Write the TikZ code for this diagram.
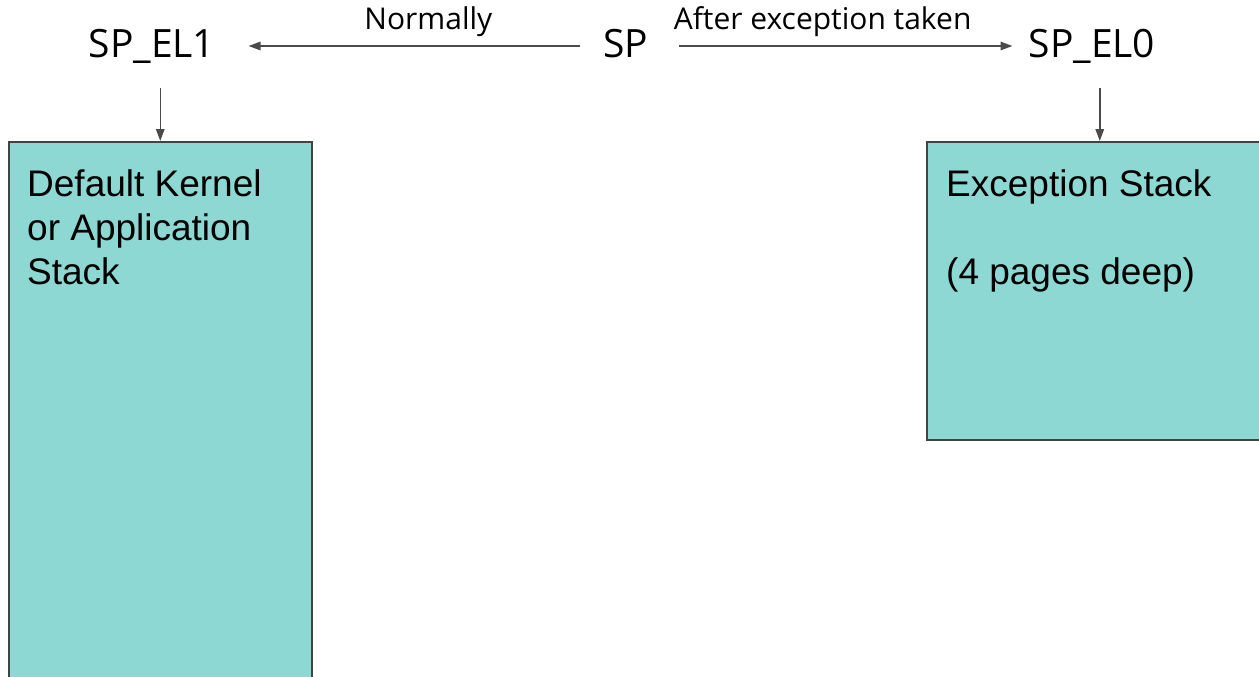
\documentclass[tikz,border=0pt]{standalone}
\usepackage{fontspec}
\setmainfont{Liberation Sans}
\newfontfamily\lblfont{Open Sans}
\usetikzlibrary{arrows.meta,positioning}
\definecolor{StackTeal}{HTML}{8ED8D3}
\definecolor{EdgeGrey}{HTML}{434343}
\definecolor{ArrGrey}{HTML}{4A4A4A}

\begin{document}
\begin{tikzpicture}[x=1pt,y=-1pt,
  sp/.style={font=\lblfont\fontsize{39}{42}\selectfont,inner sep=0pt,text height=30pt,text depth=6pt,minimum height=84pt},
  stk/.style={draw=EdgeGrey,line width=1.5pt,fill=StackTeal,anchor=north west,inner sep=0pt},
  txt/.style={font=\fontsize{37}{44}\selectfont,align=left,inner sep=0pt,anchor=north west},
  el/.style={font=\lblfont\fontsize{30}{33}\selectfont,text=black,inner sep=0pt,text depth=7pt},
  arr/.style={-{Triangle[length=12pt,width=8.5pt]},ArrGrey,line width=1.5pt}]
  \useasboundingbox (0,0) rectangle (1259,677);
  \clip (0,0) rectangle (1259,677);
  \node[sp] (el1) at (152,46) {SP\_EL1};
  \node[sp] (spr) at (626,46) {SP};
  \node[sp] (el0) at (1092,46) {SP\_EL0};
  % stacks
  \node[stk,minimum width=303pt,minimum height=600pt] (kstack) at (8,141) {};
  \node[stk,minimum width=346pt,minimum height=298pt] (estack) at (926,141) {};
  \node[txt,below right=28pt and 19pt of kstack.north west] (ktxt) {Default Kernel\\or Application\\Stack};
  \node[txt,below right=28pt and 20pt of estack.north west] (etxt) {Exception Stack\\[44pt](4 pages deep)};
  % arrows
  \draw[arr,shorten <=23pt,shorten >=33pt] (spr) -- node[el,above=9pt,xshift=19pt]{Normally} (el1);
  \draw[arr,shorten <=30pt,shorten >=16pt] (spr) -- node[el,above=9pt,xshift=-16pt]{After exception taken} (el0);
  \draw[arr] (el1.south -| kstack.north) -- (kstack.north);
  \draw[arr] (el0.south -| estack.north) -- (estack.north);
\end{tikzpicture}
\end{document}
